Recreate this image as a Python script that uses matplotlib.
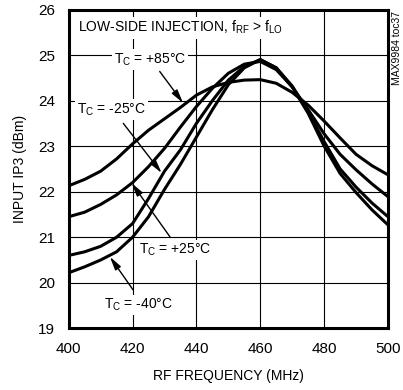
import matplotlib
matplotlib.use("Agg")
import matplotlib.pyplot as plt

plt.rcParams["font.family"] = ["Liberation Sans", "DejaVu Sans"]
plt.rcParams["mathtext.fontset"] = "custom"
plt.rcParams["mathtext.rm"] = "Liberation Sans"

freq = [400, 405, 410, 415, 420, 425, 430, 435, 440, 445, 450,
        455, 460, 465, 470, 475, 480, 485, 490, 495, 500]

iip3_p85 = [22.13, 22.27, 22.45, 22.72, 23.05, 23.35, 23.60, 23.85, 24.12, 24.30, 24.40,
            24.45, 24.46, 24.38, 24.18, 23.90, 23.55, 23.18, 22.82, 22.57, 22.37]
iip3_p25 = [21.45, 21.55, 21.72, 21.93, 22.20, 22.55, 22.95, 23.42, 23.87, 24.27, 24.60,
            24.80, 24.86, 24.68, 24.30, 23.80, 23.27, 22.82, 22.48, 22.17, 21.89]
iip3_m25 = [20.60, 20.68, 20.80, 21.00, 21.30, 21.85, 22.45, 22.92, 23.50, 24.00, 24.45,
            24.75, 24.90, 24.72, 24.32, 23.75, 23.10, 22.50, 22.10, 21.75, 21.45]
iip3_m40 = [20.22, 20.35, 20.50, 20.68, 21.00, 21.45, 22.05, 22.60, 23.20, 23.80, 24.35,
            24.72, 24.90, 24.72, 24.30, 23.72, 23.00, 22.40, 21.98, 21.60, 21.27]

x_ticks = [400, 420, 440, 460, 480, 500]
y_ticks = [19, 20, 21, 22, 23, 24, 25, 26]

fig = plt.figure(figsize=(4.03, 3.90), dpi=100)
ax = fig.add_axes([0.1705, 0.1582, 0.7923, 0.8174])

for ys in (iip3_p85, iip3_p25, iip3_m25, iip3_m40):
    ax.plot(freq, ys, color="black", lw=2.2, solid_capstyle="butt", zorder=3)

ax.set_xlim(400, 500)
ax.set_ylim(19, 26)
ax.set_xticks(x_ticks)
ax.set_yticks(y_ticks)
ax.grid(True, color="black", lw=0.8)
ax.tick_params(length=0, labelsize=11, pad=10)
for s in ax.spines.values():
    s.set_linewidth(2.2)

ax.set_xlabel("RF FREQUENCY (MHz)", fontsize=10, labelpad=9)
ax.set_ylabel("INPUT IP3 (dBm)", fontsize=10, labelpad=8)

box = dict(facecolor="white", edgecolor="none", pad=1.5)
ax.text(402.8, 25.6, r"LOW-SIDE INJECTION, f$_{\mathregular{RF}}$ > f$_{\mathregular{LO}}$",
        fontsize=10, ha="left", va="center", bbox=box, zorder=4)

arrow = dict(arrowstyle="-|>,head_length=0.8,head_width=0.2", color="black", lw=1,
             shrinkA=0, shrinkB=0)
labels = [
    (r"T$_{\mathregular{C}}$ = +85°C", (425.4, 24.9), (428.5, 24.64), (435.8, 23.95)),
    (r"T$_{\mathregular{C}}$ = -25°C", (413.4, 23.8), (417.1, 23.5), (429.1, 22.41)),
    (r"T$_{\mathregular{C}}$ = +25°C", (433.2, 20.72), (431.7, 21.01), (419.7, 22.19)),
    (r"T$_{\mathregular{C}}$ = -40°C", (422.0, 19.51), (420.2, 19.84), (412.9, 20.57)),
]
for txt, pos, start, tip in labels:
    ax.annotate("", xy=tip, xytext=start, arrowprops=arrow, zorder=5)
    ax.text(pos[0], pos[1], txt, fontsize=10, ha="center", va="center", bbox=box, zorder=4)

fig.text(0.985, 0.878, "MAX9984 toc37", rotation=90, fontsize=7.5, ha="center", va="center")

fig.savefig("out.png", dpi=100)
